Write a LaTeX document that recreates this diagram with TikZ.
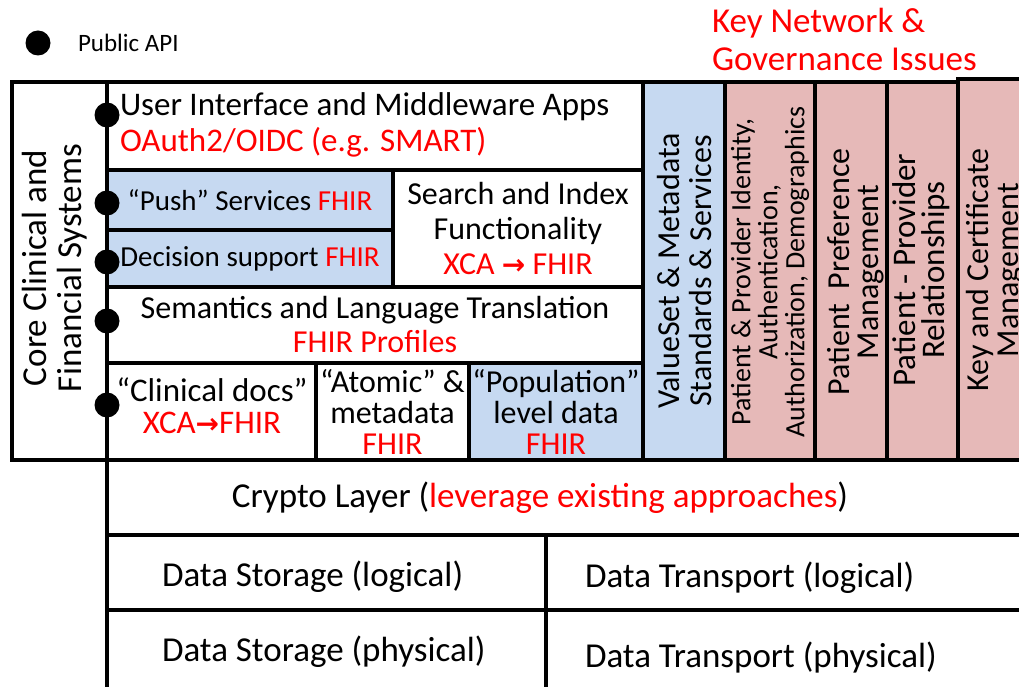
\documentclass[tikz,border=0pt]{standalone}
\usepackage{fontspec}
\setmainfont{Carlito}
\newfontfamily\arrowfont{DejaVu Sans}
\definecolor{redText}{RGB}{255,0,0}
\definecolor{fillBlue}{RGB}{198,217,241}
\definecolor{fillPink}{RGB}{230,185,184}
\newcommand{\red}[1]{\textcolor{redText}{#1}}
\newcommand{\toarrow}{{\arrowfont\bfseries\fontsize{28}{28}\selectfont →}}

\begin{document}
\begin{tikzpicture}[x=1pt,y=-1pt,
  fs/.style 2 args={font=\fontsize{#1}{#2}\selectfont},
  box/.style={draw=black,line width=3.5pt,inner sep=0pt,outer sep=0pt,align=center,anchor=north west},
  label/.style={inner sep=0pt,outer sep=0pt,align=center},
  apidot/.style={circle,fill=black,inner sep=0pt,minimum size=25pt}]
\useasboundingbox (0,0) rectangle (1019,687);
\clip (0,0) rectangle (1019,687);
\fill[white] (0,0) rectangle (1019,687);

% legend and heading
\node[apidot] (legdot) at (38,43) {};
\node[label,fs={25}{30},anchor=west] (legtext) at (78,43) {Public API};
\node[label,fs={35}{38},anchor=west,align=left,text=redText] (issues) at (712,39) {Key Network \&\\Governance Issues};

% core systems
\node[box,minimum width=95pt,minimum height=378pt] (core) at (12,82) {};
\node[label,fs={35}{35},rotate=90] (coretext) at (55,268) {Core Clinical and\\Financial Systems};

% main column
\node[box,minimum width=536pt,minimum height=88pt] (ui) at (107,82) {};
\node[label,fs={33}{36},anchor=west,align=left] (uitext) at (120,125)
  {User Interface and Middleware Apps\\\red{OAuth2/OIDC (e.g. SMART)}};
\node[box,fill=fillBlue,minimum width=286pt,minimum height=60pt,fs={29}{30}] (push) at (107,170) {“Push” Services \red{FHIR}};
\node[box,fill=fillBlue,minimum width=286pt,minimum height=57pt,fs={29}{30}] (decision) at (107,230) {Decision support \red{FHIR}};
\node[box,minimum width=250pt,minimum height=117pt,fs={32}{35}] (search) at (393,170)
  {Search and Index\\Functionality\\\red{XCA \toarrow{} FHIR}};
\node[box,minimum width=536pt,minimum height=76pt,fs={32}{34}] (semantics) at (107,287)
  {Semantics and Language Translation\\\red{FHIR Profiles}};
\node[box,minimum width=209pt,minimum height=97pt] (clinical) at (107,363) {};
\node[label,fs={33}{32}] (clinicaltext) at (212,406) {“Clinical docs”\\\red{XCA\toarrow{}FHIR}};
\node[box,minimum width=153pt,minimum height=97pt,fs={32}{31}] (atomic) at (316,363)
  {“Atomic” \&\\metadata\\\red{FHIR}};
\node[box,fill=fillBlue,minimum width=174pt,minimum height=97pt,fs={32}{31}] (population) at (469,363)
  {“Population”\\level data\\\red{FHIR}};

% governance columns
\node[box,fill=fillBlue,minimum width=82pt,minimum height=378pt] (valueset) at (643,82) {};
\node[box,fill=fillPink,minimum width=90pt,minimum height=378pt] (identity) at (725,82) {};
\node[box,fill=fillPink,minimum width=72pt,minimum height=378pt] (preference) at (815,82) {};
\node[box,fill=fillPink,minimum width=71pt,minimum height=378pt] (relations) at (887,82) {};
\node[box,fill=fillPink,minimum width=82pt,minimum height=381pt] (keycert) at (958,79) {};
\node[label,fs={32}{32},rotate=90] (valuesettext) at (684,271) {ValueSet \& Metadata\\Standards \& Services};
\node[label,fs={28}{27},rotate=90] (identitytext) at (770,272) {Patient \& Provider Identity,\\Authentication,\\Authorization, Demographics};
\node[label,fs={32}{29},rotate=90] (preferencetext) at (856,272) {Patient~~Preference\\Management};
\node[label,fs={33}{29},rotate=90] (relationstext) at (921,270) {Patient - Provider\\Relationships};
\node[label,fs={32}{30},rotate=90] (keycerttext) at (995,270) {Key and Certificate\\Management};

% lower layers
\node[box,minimum width=933pt,minimum height=75pt] (crypto) at (107,460) {};
\node[label,fs={35}{38}] (cryptotext) at (540,498) {Crypto Layer (\red{leverage existing approaches})};
\node[box,minimum width=439pt,minimum height=75pt] (storelog) at (107,535) {};
\node[box,minimum width=494pt,minimum height=75pt] (translog) at (546,535) {};
\node[box,minimum width=439pt,minimum height=80pt] (storephys) at (107,610) {};
\node[box,minimum width=494pt,minimum height=80pt] (transphys) at (546,610) {};
\node[label,fs={35}{38},anchor=west] (storelogtext) at (162,577) {Data Storage (logical)};
\node[label,fs={35}{38},anchor=west] (translogtext) at (585,578) {Data Transport (logical)};
\node[label,fs={35}{38},anchor=west] (storephystext) at (162,652) {Data Storage (physical)};
\node[label,fs={35}{38},anchor=west] (transphystext) at (585,658) {Data Transport (physical)};

% public API points
\node[apidot] (dotui) at (107,115) {};
\node[apidot] (dotpush) at (107,203) {};
\node[apidot] (dotdecision) at (107,262) {};
\node[apidot] (dotsemantics) at (107,321) {};
\node[apidot] (dotclinical) at (107,405) {};
\end{tikzpicture}
\end{document}
